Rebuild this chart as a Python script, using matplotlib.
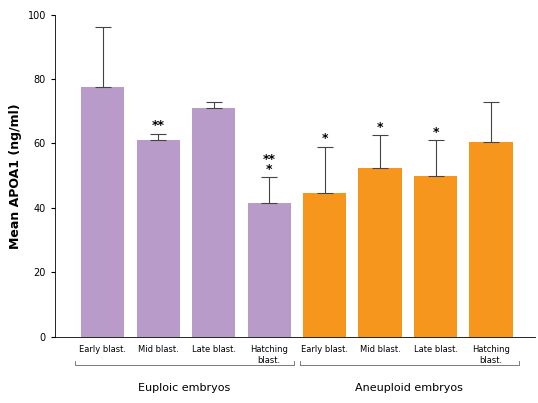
import numpy as np
import matplotlib.pyplot as plt
import matplotlib.transforms as mtransforms

labels = ["Early blast.", "Mid blast.", "Late blast.", "Hatching\nblast.",
          "Early blast.", "Mid blast.", "Late blast.", "Hatching\nblast."]
means = [77.5, 61, 71, 41.5, 44.5, 52.5, 50, 60.5]
upper = [96, 63, 73, 49.5, 59, 62.5, 61, 73]
stars = ["", "**", "", "**\n*", "*", "*", "*", ""]
groups = ["Euploic embryos", "Aneuploid embryos"]
colors = ["#b89bc9"] * 4 + ["#f7961d"] * 4

fig = plt.figure(figsize=(5.38, 4.03), dpi=100)
ax = fig.add_axes([0.102, 0.164, 0.892, 0.80])
x = np.arange(len(means))
ax.bar(x, means, width=0.78, color=colors, zorder=2)
err = np.array(upper) - np.array(means)
ax.errorbar(x, means, yerr=[np.zeros_like(err), err], fmt="none",
            ecolor="#444444", elinewidth=0.8, capsize=6, capthick=0.8, zorder=3)
for xi, u, s in zip(x, upper, stars):
    if s:
        ax.text(xi, u + 0.5, s, ha="center", va="bottom", fontsize=9,
                fontweight="bold", linespacing=0.7)

ax.set_xlim(-0.865, 7.79)
ax.set_ylim(0, 100)
ax.set_yticks([0, 20, 40, 60, 80, 100])
ax.set_xticks(x)
ax.set_xticklabels(labels, fontsize=6)
ax.tick_params(axis="y", labelsize=7, length=3)
ax.tick_params(axis="x", length=0, pad=6)
ax.set_ylabel("Mean APOA1 (ng/ml)", fontsize=9, fontweight="bold")
for sp in ["top", "right"]:
    ax.spines[sp].set_visible(False)
ax.spines["left"].set_linewidth(0.6)
ax.spines["bottom"].set_linewidth(0.6)

trans = mtransforms.blended_transform_factory(ax.transData, ax.transAxes)
for g, (a, b) in zip(groups, [(-0.5, 3.45), (3.55, 7.5)]):
    ax.plot([a, a, b, b], [-0.075, -0.088, -0.088, -0.075], color="#666666",
            lw=0.6, transform=trans, clip_on=False)
    ax.text((a + b) / 2, -0.16, g, ha="center", va="center", fontsize=8,
            transform=trans)

fig.savefig("out.png", dpi=100)
